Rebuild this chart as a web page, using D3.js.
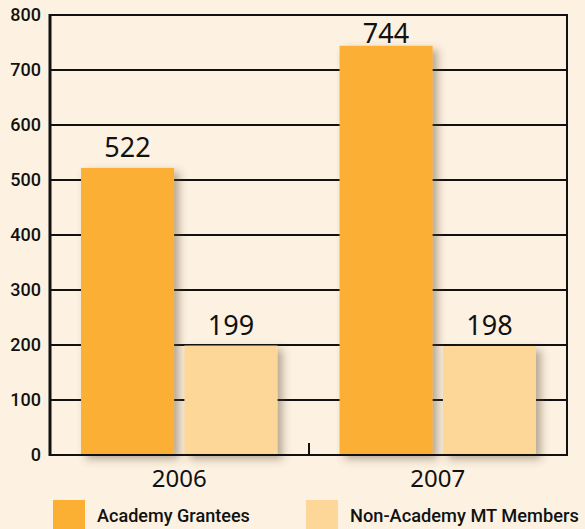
<!DOCTYPE html>
<html>
<head>
<meta charset="utf-8">
<script src="https://cdn.jsdelivr.net/npm/d3@7"></script>
<style>
  body { margin: 0; background: #fdf1e1; }
  svg { display: block; }
</style>
</head>
<body>
<svg id="chart"></svg>
<script>
const years = ['2006', '2007'];
const seriesNames = ['Academy Grantees', 'Non-Academy MT Members'];
const academyGrantees = [522, 744];
const nonAcademyMembers = [199, 198];
const yTicks = [0, 100, 200, 300, 400, 500, 600, 700, 800];
const colors = ['#fbb034', '#fdd798'];

const W = 585, H = 529;
const margin = { top: 15, right: 18, bottom: 74, left: 50 };
const w = W - margin.left - margin.right;
const h = H - margin.top - margin.bottom;

const rows = years.map((y, i) => ({ year: y, values: [academyGrantees[i], nonAcademyMembers[i]] }));

const svg = d3.select('#chart').attr('width', W).attr('height', H);

const defs = svg.append('defs');
const filt = defs.append('filter').attr('id', 'shadow')
    .attr('x', '-20%').attr('y', '-20%').attr('width', '150%').attr('height', '150%');
filt.append('feDropShadow')
    .attr('dx', 5).attr('dy', 4).attr('stdDeviation', 4)
    .attr('flood-color', '#5a4a30').attr('flood-opacity', 0.45);

const g = svg.append('g').attr('transform', `translate(${margin.left},${margin.top})`);

let x0 = d3.scaleBand().domain(years).range([0, w]).paddingInner(0.24).paddingOuter(0.12);
let x1 = d3.scaleBand().domain(seriesNames).range([0, x0.bandwidth()]).paddingInner(0.1);
let y = d3.scaleLinear().domain([0, 800]).range([h, 0]);

// gridlines
g.append('g')
    .selectAll('line')
    .data(yTicks)
    .enter()
    .append('line')
    .attr('x1', 0).attr('x2', w)
    .attr('y1', d => y(d)).attr('y2', d => y(d))
    .attr('stroke', '#111').attr('stroke-width', 2);

// bars
let groups = g.selectAll('.grp')
    .data(rows)
    .enter()
    .append('g')
    .attr('transform', d => `translate(${x0(d.year)},0)`);

groups.selectAll('rect')
    .data(d => d.values.map((v, i) => ({ name: seriesNames[i], value: v, i: i })))
    .enter()
    .append('rect')
    .attr('x', d => x1(d.name))
    .attr('y', d => y(d.value))
    .attr('width', x1.bandwidth())
    .attr('height', d => h - y(d.value))
    .attr('fill', d => colors[d.i])
    .attr('filter', 'url(#shadow)');

// value labels, kept inside the frame
groups.selectAll('text')
    .data(d => d.values.map((v, i) => ({ name: seriesNames[i], value: v })))
    .enter()
    .append('text')
    .attr('x', d => x1(d.name) + x1.bandwidth() / 2)
    .attr('y', d => Math.max(y(d.value) - 11, 28))
    .attr('text-anchor', 'middle')
    .style('font-family', '"Noto Sans", sans-serif')
    .style('font-size', '27px')
    .style('fill', '#111')
    .text(d => d.value);

// frame
g.append('rect')
    .attr('x', 0).attr('y', 0).attr('width', w).attr('height', h)
    .attr('fill', 'none').attr('stroke', '#111').attr('stroke-width', 2);
g.append('line')
    .attr('x1', 0).attr('x2', 0).attr('y1', -1).attr('y2', h + 1)
    .attr('stroke', '#111').attr('stroke-width', 3);

// middle tick
g.append('line')
    .attr('x1', x0.step() + 0.5).attr('x2', x0.step() + 0.5)
    .attr('y1', h - 12).attr('y2', h)
    .attr('stroke', '#111').attr('stroke-width', 2);

// y tick labels
g.append('g')
    .selectAll('text')
    .data(yTicks)
    .enter()
    .append('text')
    .attr('x', -9)
    .attr('y', d => y(d) + 6)
    .attr('text-anchor', 'end')
    .style('font-family', 'Roboto, sans-serif')
    .style('font-weight', 500)
    .style('font-size', '18px')
    .style('fill', '#111')
    .text(d => d);

// x labels
g.append('g')
    .selectAll('text')
    .data(years)
    .enter()
    .append('text')
    .attr('x', d => x0(d) + x0.bandwidth() / 2)
    .attr('y', h + 32)
    .attr('text-anchor', 'middle')
    .style('font-family', '"Noto Sans", sans-serif')
    .style('font-size', '24px')
    .style('fill', '#111')
    .text(d => d);

// legend (condensed look: squeeze horizontally to the reference widths)
const legendX = [53, 306];
const legendTextW = [153, 229];
let leg = svg.append('g')
    .selectAll('g')
    .data(seriesNames)
    .enter()
    .append('g')
    .attr('transform', (d, i) => `translate(${legendX[i]},500)`);
leg.append('rect')
    .attr('width', 32).attr('height', 29)
    .attr('fill', (d, i) => colors[i]);
leg.append('text')
    .attr('x', 0)
    .attr('y', 0)
    .style('font-family', 'Roboto, sans-serif')
    .style('font-weight', 500)
    .style('font-size', '19px')
    .style('fill', '#111')
    .text(d => d)
    .attr('transform', function(d, i) {
        let k = legendTextW[i] / this.getComputedTextLength();
        return `translate(44,22) scale(${Math.min(k, 1)},1)`;
    });
</script>
</body>
</html>
